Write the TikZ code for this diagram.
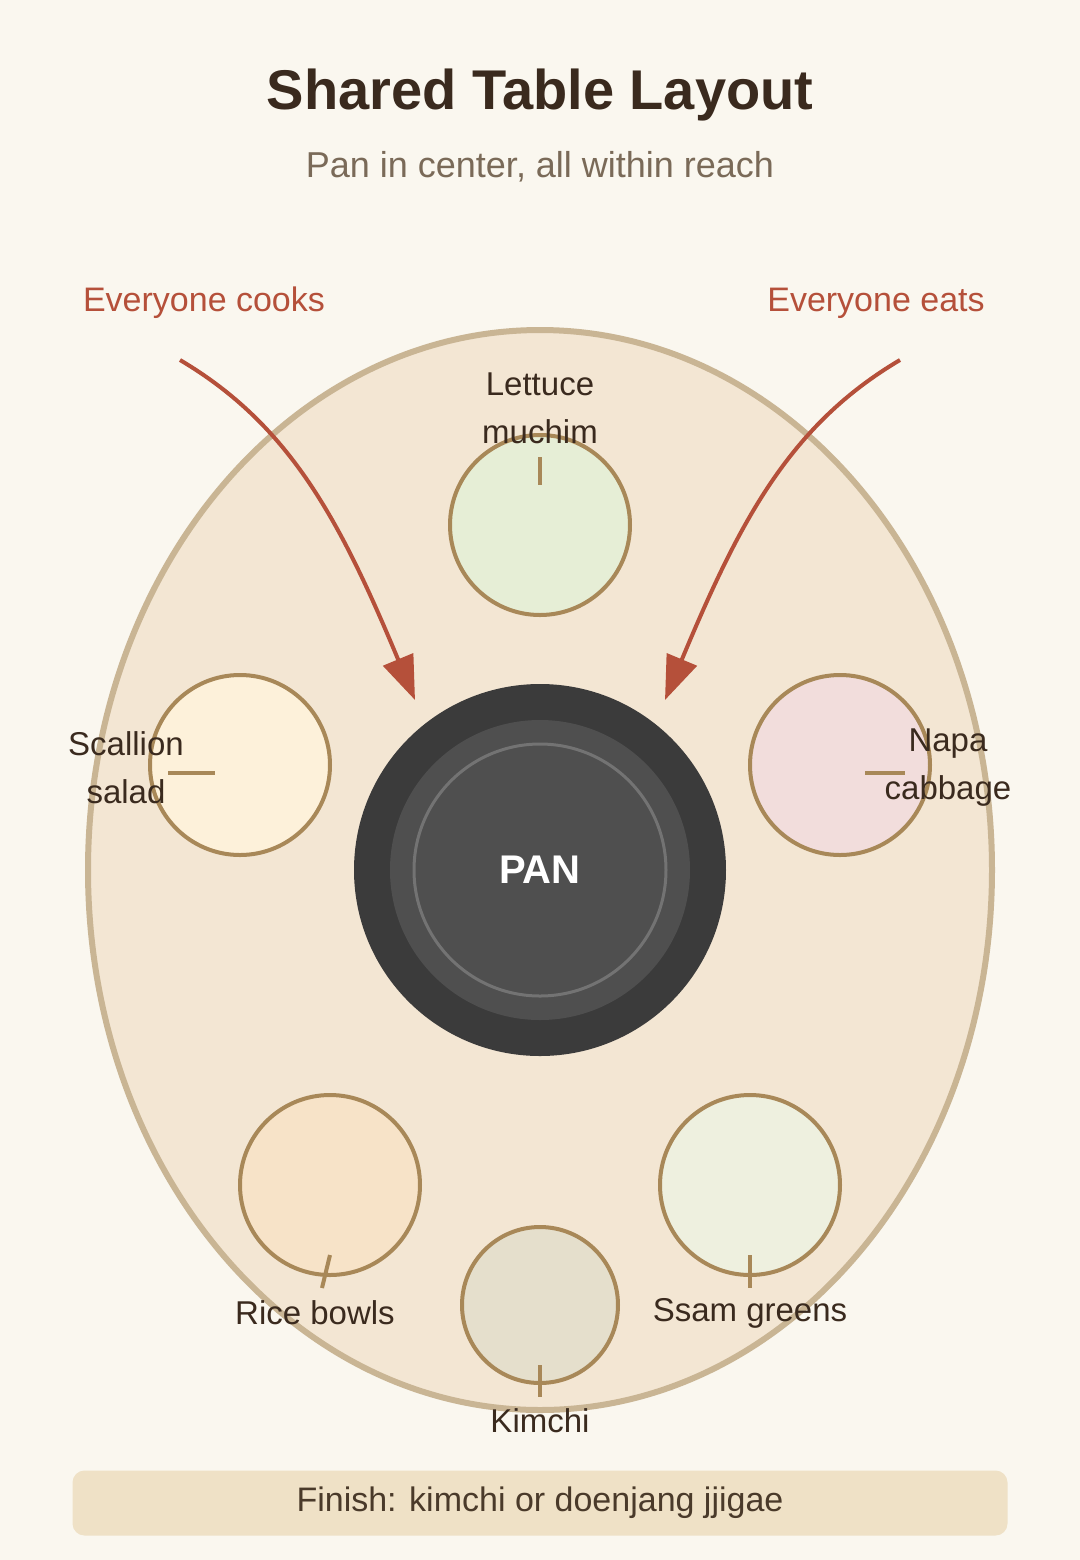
\documentclass[tikz,border=0pt]{standalone}
\usepackage{fontspec}
\setmainfont{Liberation Sans}
\usetikzlibrary{arrows.meta}
\definecolor{bg}{HTML}{FAF7EF}
\definecolor{tablef}{HTML}{F3E6D3}
\definecolor{tabled}{HTML}{C9B594}
\definecolor{dishd}{HTML}{A88858}
\definecolor{accent}{HTML}{B5503A}
\definecolor{ink}{HTML}{3A2A1E}
\definecolor{sub}{HTML}{7A6A58}
\definecolor{cA}{HTML}{E6EED6}
\definecolor{cB}{HTML}{FDF1DA}
\definecolor{cC}{HTML}{F2DDDC}
\definecolor{cD}{HTML}{F7E3C8}
\definecolor{cE}{HTML}{EEF0DF}
\definecolor{cF}{HTML}{E5DFCC}
\definecolor{footf}{HTML}{EFE1C6}
\definecolor{foott}{HTML}{4A3A2A}
\begin{document}
\begin{tikzpicture}[x=0.5pt,y=-0.5pt,
  dish/.style={circle,draw=dishd,line width=2pt,minimum size=90pt,inner sep=0},
  lab/.style={text=ink,font=\fontsize{16.5}{24}\selectfont,align=center},
  tick/.style={draw=dishd,line width=2pt},
  arr/.style={draw=accent,line width=2pt,-{Triangle[length=22pt,width=16pt]}},
  alab/.style={text=accent,font=\fontsize{17}{20}\selectfont}]
\fill[bg] (0,0) rectangle (1080,1560);
\useasboundingbox (0,0) rectangle (1080,1560);
\node[text=ink,font=\bfseries\fontsize{28}{32}\selectfont] (title) at (540,95) {Shared Table Layout};
\node[text=sub,font=\fontsize{18}{22}\selectfont] (sub) at (540,167) {Pan in center, all within reach};
\draw[fill=tablef,draw=tabled,line width=3pt] (540,870) ellipse [x radius=452,y radius=540];
% pan
\node[circle,fill=black!77,minimum size=186pt,inner sep=0] (pan) at (540,870) {};
\node[circle,fill=black!69,minimum size=150pt,inner sep=0] (panm) at (540,870) {};
\node[circle,draw=black!55,line width=1.5pt,minimum size=126pt,inner sep=0,text=white,font=\bfseries\fontsize{20}{24}\selectfont] (pani) at (540,870) {PAN};
% dishes
\node[dish,fill=cA] (lettuce) at (540,525) {};
\node[dish,fill=cB] (scallion) at (240,765) {};
\node[dish,fill=cC] (napa) at (840,765) {};
\node[dish,fill=cD] (rice) at (330,1185) {};
\node[dish,fill=cE] (ssam) at (750,1185) {};
\node[dish,fill=cF,minimum size=78pt] (kimchi) at (540,1305) {};
% ticks
\coordinate (t1a) at (540,457); \coordinate (t1b) at (540,485); \draw[tick] (t1a)--(t1b);
\coordinate (t2a) at (168,773); \coordinate (t2b) at (215,773); \draw[tick] (t2a)--(t2b);
\coordinate (t3a) at (865,773); \coordinate (t3b) at (905,773); \draw[tick] (t3a)--(t3b);
\coordinate (t4a) at (330,1255); \coordinate (t4b) at (322,1288); \draw[tick] (t4a)--(t4b);
\coordinate (t5a) at (750,1255); \coordinate (t5b) at (750,1288); \draw[tick] (t5a)--(t5b);
\coordinate (t6a) at (540,1365); \coordinate (t6b) at (540,1397); \draw[tick] (t6a)--(t6b);
% labels
\node[lab] (l1) at (540,408) {Lettuce\\muchim};
\node[lab] (l2) at (126,768) {Scallion\\salad};
\node[lab] (l3) at (948,768) {Napa\\cabbage};
\node[lab] (l4) at (315,1313) {Rice bowls};
\node[lab] (l5) at (750,1313) {Ssam greens};
\node[lab] (l6) at (540,1421) {Kimchi};
% arrows
\node[alab] (cooks) at (204,303) {Everyone cooks};
\node[alab] (eats) at (876,303) {Everyone eats};
\coordinate (a1s) at (180,360); \coordinate (a1e) at (415,700);
\coordinate (a2s) at (900,360); \coordinate (a2e) at (665,700);
\draw[arr] (a1s) .. controls (290,425) and (340,520) .. (a1e);
\draw[arr] (a2s) .. controls (790,425) and (740,520) .. (a2e);
% footer
\node[fill=footf,rounded corners=6pt,minimum width=467.5pt,minimum height=32.5pt,text=foott,font=\fontsize{17}{20}\selectfont] (foot) at (540,1503) {Finish: kimchi or doenjang jjigae};
\end{tikzpicture}
\end{document}
